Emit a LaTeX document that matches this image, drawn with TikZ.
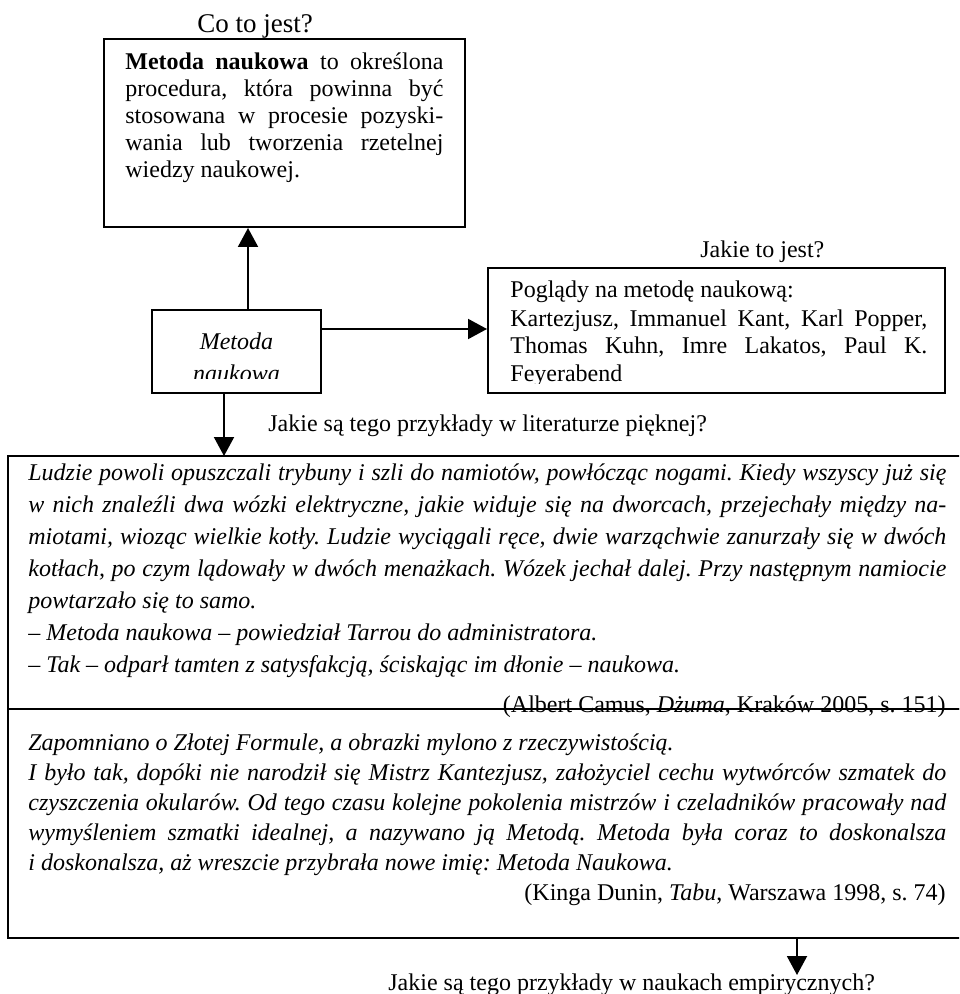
\documentclass[tikz,border=0pt]{standalone}
\usepackage{fontspec}
\setmainfont{Liberation Serif}
\usetikzlibrary{arrows.meta}
\tolerance=10000
\hyphenpenalty=10000
\frenchspacing
\tikzset{
  box/.style={draw,rectangle,line width=1pt,inner sep=0pt},
  txt/.style={inner sep=0pt,anchor=base west,font=\fontsize{12}{13.8}\selectfont}
}

\begin{document}
\begin{tikzpicture}[x=0.5pt,y=-0.5pt,
% filled arrow heads for the connectors
arr/.style={line width=1pt,-{Triangle[length=9.5pt,width=10pt]}}]

\useasboundingbox (0,0) rectangle (959,994);
\clip (0,0) rectangle (959,994);

% what is it?
\node[txt,font=\fontsize{13.5}{15}\selectfont] (qwhat) at (197,33) {Co to jest?};
\node[box,minimum width=180.5pt,minimum height=94pt] (defn) at (284.5,133) {};
\node[txt,text width=159pt,align=justify,font=\fontsize{12}{13.5}\selectfont] (defntext) at (125,70)
  {\textbf{Metoda naukowa} to określona\linebreak procedura, która powinna być\linebreak
   stosowana w procesie pozyski-\linebreak wania lub tworzenia rzetelnej\linebreak wiedzy naukowej.};

% centre box
\node[box,minimum width=84.5pt,minimum height=41.5pt] (metoda) at (236.5,351.5) {};
\begin{scope}
\clip (152,310) rectangle (321,378);
\node[txt,anchor=base,text width=84.5pt,align=center,font=\itshape\fontsize{12}{16.5}\selectfont] (metodatext) at (236.5,349) {Metoda\\naukowa};
\end{scope}

% what is it like?
\node[txt] (qhow) at (700,258) {Jakie to jest?};
\node[box,minimum width=228.5pt,minimum height=62.5pt] (views) at (716.5,330.5) {};
\begin{scope}
\clip (488,268) rectangle (945,383);
\node[txt,text width=208.5pt,align=justify,font=\fontsize{12}{14}\selectfont] (viewstext) at (510,298)
  {Poglądy na metodę naukową:\\ Kartezjusz, Immanuel Kant, Karl Popper,\linebreak
   Thomas Kuhn, Imre Lakatos, Paul K.\linebreak Feyerabend};
\end{scope}

\draw[arr] ([xshift=5.75pt]metoda.north) -- ([xshift=5.75pt]metoda.north |- defn.south);
\draw[arr] ([yshift=-10pt]metoda.north east) -- ([yshift=-10pt]metoda.north east -| views.west);
\draw[arr] ([xshift=-6.25pt]metoda.south) -- ([xshift=-6.25pt]metoda.south |- 0,456);

% examples in literature
\node[txt] (qlit) at (268,431) {Jakie są tego przykłady w literaturze pięknej?};
\node[box,line width=1.2pt,minimum width=486pt,minimum height=126.5pt] (litA) at (494,582.5) {};
\node[box,line width=1.2pt,minimum width=486pt,minimum height=114.5pt] (litB) at (494,823.5) {};

\node[txt,text width=459pt,align=justify,font=\itshape\fontsize{12}{16}\selectfont] (camus) at (28,480)
  {Ludzie powoli opuszczali trybuny i szli do namiotów, powłócząc nogami. Kiedy wszyscy już się\linebreak
   w nich znaleźli dwa wózki elektryczne, jakie widuje się na dworcach, przejechały między na-\linebreak
   miotami, wioząc wielkie kotły. Ludzie wyciągali ręce, dwie warząchwie zanurzały się w dwóch\linebreak
   kotłach, po czym lądowały w dwóch menażkach. Wózek jechał dalej. Przy następnym namiocie\linebreak
   powtarzało się to samo.\\
   – Metoda naukowa – powiedział Tarrou do administratora.\\
   – Tak – odparł tamten z satysfakcją, ściskając im dłonie – naukowa.};
\node[txt,anchor=base east] (camusref) at (946,712) {(Albert Camus, \textit{Dżuma}, Kraków 2005, s. 151)};

\node[txt,text width=459pt,align=justify,font=\itshape\fontsize{12}{15}\selectfont] (dunin) at (28,750)
  {Zapomniano o Złotej Formule, a obrazki mylono z rzeczywistością.\\
   I było tak, dopóki nie narodził się Mistrz Kantezjusz, założyciel cechu wytwórców szmatek do\linebreak
   czyszczenia okularów. Od tego czasu kolejne pokolenia mistrzów i czeladników pracowały nad\linebreak
   wymyśleniem szmatki idealnej, a nazywano ją Metodą. Metoda była coraz to doskonalsza\linebreak
   i doskonalsza, aż wreszcie przybrała nowe imię: Metoda Naukowa.};
\node[txt,anchor=base east] (duninref) at (946,900) {(Kinga Dunin, \textit{Tabu}, Warszawa 1998, s. 74)};

% examples in empirical sciences
\coordinate (emp) at (797,975);
\draw[arr] (litB.south -| emp) -- (emp);
\node[txt] (qemp) at (388,990) {Jakie są tego przykłady w naukach empirycznych?};
\end{tikzpicture}
\end{document}
